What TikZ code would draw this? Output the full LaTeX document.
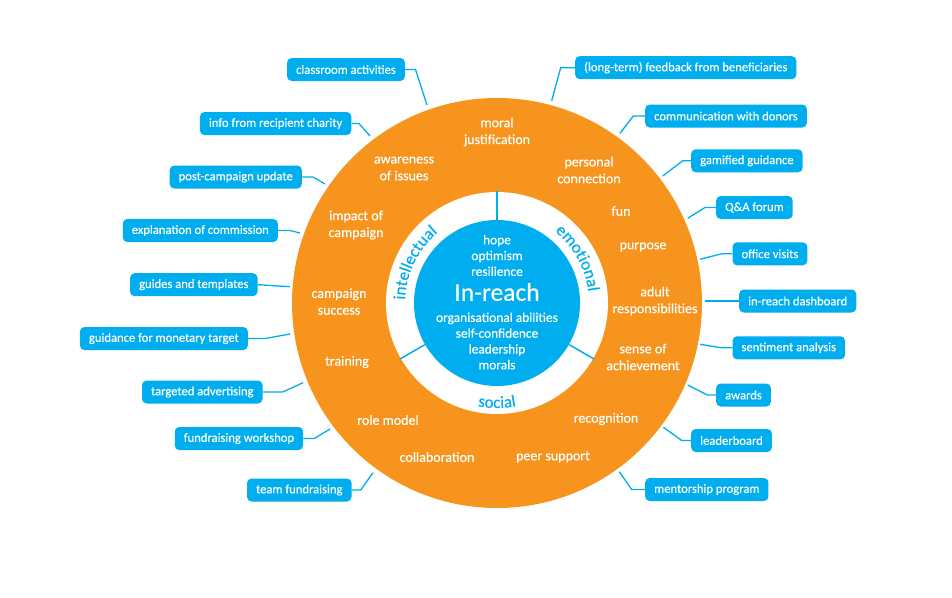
\documentclass[tikz,border=0pt]{standalone}
\usepackage{fontspec}
\setmainfont{Carlito}[FakeBold=0.35]
\usetikzlibrary{decorations.text}
\definecolor{ringorange}{HTML}{F7941D}
\definecolor{boxblue}{HTML}{00AEEF}
\begin{document}
\begin{tikzpicture}[x=1pt,y=1pt,
 box/.style={fill=boxblue, rounded corners=4.5pt, text=white, font=\fontsize{12.6}{14}\selectfont, inner xsep=9pt, inner ysep=0pt, minimum height=23pt},
 lbox/.style={box, anchor=east},
 rbox/.style={box, anchor=west},
 conn/.style={draw=boxblue, line width=1.3pt},
 ringlabel/.style={text=white, font=\fontsize{14}{16.8}\selectfont, align=center},
 coretext/.style={text=white, font=\fontsize{13.4}{15.8}\selectfont, align=center},
 divider/.style={draw=boxblue, line width=1.5pt},
]
\useasboundingbox (0,0) rectangle (952,-597);
\fill[white] (0,0) rectangle (952,-597);
\coordinate (C) at (497,-303);
\fill[ringorange] (C) circle[radius=205pt];
\fill[white] (C) circle[radius=111pt];
\node[circle, fill=boxblue, minimum size=166pt, inner sep=0pt] (core) at (C) {};
\draw[divider] (core.90) -- ++(90:29);
\draw[divider] (core.210) -- ++(210:29);
\draw[divider] (core.330) -- ++(330:29);

% sector labels
\path (C) ++(204:92) coordinate (i0);
\path (C) ++(79:92) coordinate (m0);
\path (C) ++(220:105) coordinate (s0);
\path[decorate, decoration={text along path, text align=center, text={|\fontsize{17}{17}\selectfont\color{boxblue}|intellectual}}] (i0) arc[start angle=204, end angle=104, radius=92pt];
\path[decorate, decoration={text along path, text align=center, text={|\fontsize{17}{17}\selectfont\color{boxblue}|emotional}}] (m0) arc[start angle=79, end angle=-21, radius=92pt];
\path[decorate, decoration={text along path, text align=center, text={|\fontsize{17}{17}\selectfont\color{boxblue}|social}}] (s0) arc[start angle=220, end angle=320, radius=105pt];

% core text
\node[coretext] (ctop) at (497,-255.5) {hope\\optimism\\resilience};
\node[text=white, font=\fontsize{25.5}{25.5}\selectfont] (title) at (497,-292) {In-reach};
\node[coretext] (cbot) at (497,-341) {organisational abilities\\self-confidence\\leadership\\morals};

% ring labels
\node[ringlabel] (l1) at (497,-132) {moral\\justification};
\node[ringlabel] (l2) at (589,-170) {personal\\connection};
\node[ringlabel] (l3) at (621,-211) {fun};
\node[ringlabel] (l4) at (643,-247) {purpose};
\node[ringlabel] (l5) at (655,-301) {adult\\responsibilities};
\node[ringlabel] (l6) at (643,-357) {sense of\\achievement};
\node[ringlabel] (l7) at (606,-419) {recognition};
\node[ringlabel] (l8) at (553,-457) {peer support};
\node[ringlabel] (l9) at (437,-457) {collaboration};
\node[ringlabel] (l10) at (388,-420) {role model};
\node[ringlabel] (l11) at (347,-362) {training};
\node[ringlabel] (l12) at (339,-301.5) {campaign\\success};
\node[ringlabel] (l13) at (356,-225) {impact of\\campaign};
\node[ringlabel] (l14) at (404,-168.5) {awareness\\of issues};

% boxes
\node[lbox] (b1) at (405,-69.5) {classroom activities};
\node[lbox] (b2) at (351.5,-123.5) {info from recipient charity};
\node[lbox] (b3) at (302,-177) {post-campaign update};
\node[lbox] (b4) at (278,-230.5) {explanation of commission};
\node[lbox] (b5) at (257.7,-284.7) {guides and templates};
\node[lbox] (b6) at (248,-338.5) {guidance for monetary target};
\node[lbox] (b7) at (262.7,-392) {targeted advertising};
\node[lbox] (b8) at (303.3,-438.5) {fundraising workshop};
\node[lbox] (b9) at (351.7,-490) {team fundraising};
\node[rbox] (b10) at (575,-67.7) {(long-term) feedback from beneficiaries};
\node[rbox] (b11) at (645,-116) {communication with donors};
\node[rbox] (b12) at (691,-160.8) {gamified guidance};
\node[rbox] (b13) at (716,-207.5) {Q\&A forum};
\node[rbox] (b14) at (732.3,-253.8) {office visits};
\node[rbox] (b15) at (739,-301) {in-reach dashboard};
\node[rbox] (b16) at (732.3,-347.8) {sentiment analysis};
\node[rbox] (b17) at (716,-395) {awards};
\node[rbox] (b18) at (691,-440.5) {leaderboard};
\node[rbox] (b19) at (645,-489.5) {mentorship program};

% connector ends on the ring
\coordinate (e1) at (427,-105);
\coordinate (e2) at (370,-136);
\coordinate (e3) at (325,-184);
\coordinate (e4) at (300,-233);
\coordinate (e5) at (290,-286.7);
\coordinate (e6) at (290,-334);
\coordinate (e7) at (303,-382.7);
\coordinate (e8) at (330,-429);
\coordinate (e9) at (373,-472.7);
\coordinate (e10) at (551.7,-100.7);
\coordinate (e11) at (620,-133.3);
\coordinate (e12) at (662.7,-176);
\coordinate (e13) at (687.7,-218.3);
\coordinate (e14) at (700,-259.3);
\coordinate (e15) at (705,-301);
\coordinate (e16) at (700,-344.3);
\coordinate (e17) at (687.7,-385);
\coordinate (e18) at (663.3,-427.3);
\coordinate (e19) at (619.3,-471.7);

\draw[conn] (b1.east) -- ++(10.5,0) -- (e1);
\draw[conn] (b2.east) -- ++(7.5,0) -- (e2);
\draw[conn] (b3.east) -- ++(11,0) -- (e3);
\draw[conn] (b4.east) -- ++(12,0) -- (e4);
\draw[conn] (b5.east) -- (e5);
\draw[conn] (b6.east) -- ++(17,0) -- (e6);
\draw[conn] (b7.east) -- ++(20,0) -- (e7);
\draw[conn] (b8.east) -- ++(11,0) -- (e8);
\draw[conn] (b9.east) -- ++(9,0) -- (e9);
\draw[conn] (b10.west) -- ++(-14.3,0) -- (e10);
\draw[conn] (b11.west) -- ++(-11.7,0) -- (e11);
\draw[conn] (b12.west) -- ++(-8.3,0) -- (e12);
\draw[conn] (b13.west) -- ++(-11,0) -- (e13);
\draw[conn] (b14.west) -- ++(-10.6,0) -- (e14);
\draw[conn] (b15.west) -- (e15);
\draw[conn] (b16.west) -- ++(-10.6,0) -- (e16);
\draw[conn] (b17.west) -- ++(-8.7,0) -- (e17);
\draw[conn] (b18.west) -- ++(-9.3,0) -- (e18);
\draw[conn] (b19.west) -- ++(-13.3,0) -- (e19);
\end{tikzpicture}
\end{document}
